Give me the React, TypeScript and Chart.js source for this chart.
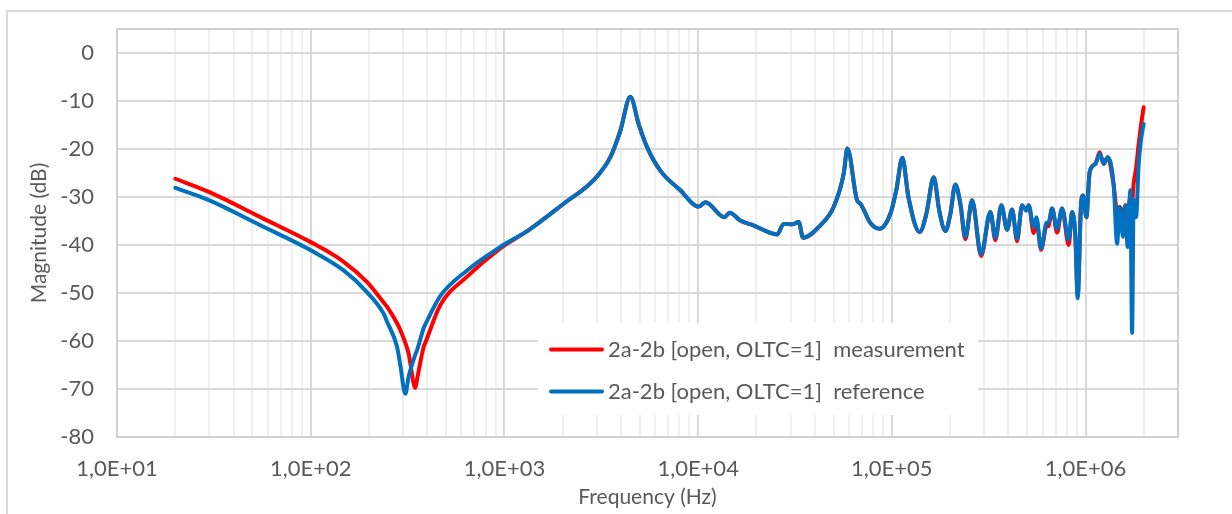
import React, { useEffect, useRef } from "react";
import { Chart, registerables } from "chart.js";

Chart.register(...registerables);

// Frequency points (Hz)
const freqs = [
  20, 30, 55, 100, 148, 195, 238, 248, 279, 290, 308, 320, 347, 354, 383, 391, 467, 641, 952, 1334,
  2021, 2887, 3521, 3965, 4467, 4930, 5449, 6380, 8094, 10060, 10900, 13657, 14543, 16516, 19275,
  25556, 27637, 30532, 33030, 34806, 42749, 50060, 56390, 58929, 66130, 68780, 77450, 86500, 98220,
  105500, 113300, 121700, 139200, 150700, 164400, 175900, 188900, 200500, 212700, 225700, 239600,
  259500, 288800, 322500, 342200, 367500, 393300, 417400, 443000, 470200, 494800, 508500, 539700,
  557200, 589200, 627700, 645000, 671700, 712800, 756400, 818100, 852000, 885800, 910500, 948000,
  971000, 1009500, 1050000, 1123600, 1182600, 1240000, 1301000, 1397000, 1455000, 1500000, 1562000,
  1605000, 1649000, 1703000, 1738000, 1771000, 1822000, 1880000, 1934000, 1995000,
];

// Series: measurement (red)
const measurement = [
  -26.2, -29.0, -34.2, -39.4, -43.5, -47.7, -52.0, -52.9, -56.3, -57.7, -60.4, -62.6, -69.8, -68.0, -61.2, -60.3, -52.5, -46.6, -40.7, -36.9,
  -31.4, -26.5, -21.7, -16.2, -9.1, -14.8, -19.6, -24.5, -28.6, -32.0, -31.1, -34.2, -33.3, -34.9, -35.9,
  -37.8, -35.6, -35.7, -35.2, -38.5, -35.9, -32.1, -25.2, -19.9, -30.7, -31.4, -35.4, -36.6, -33.5,
  -28.5, -21.8, -30.0, -37.3, -33.5, -25.9, -33.0, -37.1, -33.5, -27.4, -31.4, -38.8,
  -30.7, -42.3, -33.1, -39.0, -31.7, -36.8, -32.6, -39.2, -31.7, -32.8, -31.7, -37.5,
  -34.8, -41.0, -36.2, -36.0, -32.4, -37.4, -32.4, -40.0, -33.1, -38.3, -50.5, -31.4,
  -29.7, -34.2, -24.8, -23.1, -20.7, -23.1, -21.7, -27.6, -33.0, -32.1, -33.5,
  -31.7, -33.0, -30.0, -31.0, -27.2, -24.0, -19.0, -15.0, -11.3,
];

// Series: reference (blue)
const reference = [
  -28.1, -30.7, -35.9, -41.1, -45.3, -49.8, -54.3, -56.0, -61.2, -65.0, -71.0, -67.5, -62.8, -61.9, -57.3, -56.5, -50.6, -45.3, -40.4, -36.9,
  -31.4, -26.5, -21.7, -16.2, -9.1, -14.8, -19.6, -24.5, -28.6, -32.0, -31.1, -34.2, -33.3, -34.9, -35.9,
  -37.8, -35.6, -35.7, -35.2, -38.5, -35.9, -32.1, -25.2, -19.9, -30.7, -31.4, -35.4, -36.6, -33.5,
  -28.5, -21.8, -30.0, -37.3, -33.5, -25.9, -33.0, -37.1, -33.5, -27.4, -31.4, -38.3,
  -30.7, -41.9, -33.1, -38.5, -31.7, -36.8, -32.6, -38.7, -31.7, -32.8, -31.7, -36.3,
  -34.2, -40.7, -35.4, -35.2, -32.4, -36.6, -32.4, -38.9, -33.1, -38.3, -51.1, -31.4,
  -29.7, -34.2, -24.8, -23.1, -21.0, -23.1, -21.7, -27.6, -39.7, -32.1, -38.3,
  -31.7, -40.4, -28.6, -58.3, -30.7, -34.2, -23.1, -18.0, -14.8,
];

const seriesLabels = [
  "2a-2b [open, OLTC=1]  measurement",
  "2a-2b [open, OLTC=1]  reference",
];
const seriesColors = ["#FF0000", "#0070C0"];

const yTicks = [-80, -70, -60, -50, -40, -30, -20, -10, 0];
const yMin = -80;
const yMax = 5;
const xMin = 10;
const xMax = 3e6;
const xTickMultipliers = [1, 2, 3, 4, 5, 6, 7, 8, 9];
const xTickExponents = [1, 2, 3, 4, 5, 6];

const xTitle = "Frequency (Hz)";
const yTitle = "Magnitude (dB)";

const FONT = "Lato";
const TEXT_COLOR = "#595959";

function isDecade(v: number) {
  const l = Math.log10(v);
  return Math.abs(l - Math.round(l)) < 1e-9;
}

function sciLabel(v: number) {
  const e = Math.round(Math.log10(v));
  return "1,0E+" + String(e).padStart(2, "0");
}

const xTickValues: number[] = [];
xTickExponents.forEach((e) => {
  xTickMultipliers.forEach((k) => {
    const v = k * Math.pow(10, e);
    if (v >= xMin && v <= xMax) xTickValues.push(v);
  });
});

const plotBorderPlugin = {
  id: "plotBorder",
  beforeDatasetsDraw(chart: any) {
    const { ctx, chartArea } = chart;
    ctx.save();
    ctx.strokeStyle = "#D0D0D0";
    ctx.lineWidth = 2;
    ctx.strokeRect(
      chartArea.left,
      chartArea.top,
      chartArea.right - chartArea.left,
      chartArea.bottom - chartArea.top
    );
    ctx.restore();
  },
};

const insideLegendPlugin = {
  id: "insideLegend",
  afterDraw(chart: any) {
    const { ctx } = chart;
    const boxLeft = 538;
    const boxTop = 323;
    const boxW = 440;
    const boxH = 92;
    ctx.save();
    ctx.fillStyle = "#FFFFFF";
    ctx.fillRect(boxLeft, boxTop, boxW, boxH);
    const rows = [349.5, 391.5];
    seriesLabels.forEach((label, i) => {
      const y = rows[i];
      ctx.strokeStyle = seriesColors[i];
      ctx.lineWidth = 4;
      ctx.lineCap = "round";
      ctx.beginPath();
      ctx.moveTo(551, y);
      ctx.lineTo(602, y);
      ctx.stroke();
      ctx.fillStyle = TEXT_COLOR;
      ctx.font = `22px ${FONT}`;
      ctx.textBaseline = "middle";
      ctx.textAlign = "left";
      ctx.fillText(label, 608, y);
    });
    ctx.restore();
  },
};

export default function App() {
  const canvasRef = useRef<HTMLCanvasElement | null>(null);

  useEffect(() => {
    let chart: Chart | null = null;
    let cancelled = false;

    const build = () => {
      if (cancelled || !canvasRef.current) return;
      const datasets = [
        {
          label: seriesLabels[1],
          data: freqs.map((f, i) => ({ x: f, y: reference[i] })),
          borderColor: seriesColors[1],
          backgroundColor: seriesColors[1],
          borderWidth: 4,
          pointRadius: 0,
          cubicInterpolationMode: "monotone" as const,
          borderJoinStyle: "round" as const,
          borderCapStyle: "round" as const,
        },
        {
          label: seriesLabels[0],
          data: freqs.map((f, i) => ({ x: f, y: measurement[i] })),
          borderColor: seriesColors[0],
          backgroundColor: seriesColors[0],
          borderWidth: 4,
          pointRadius: 0,
          cubicInterpolationMode: "monotone" as const,
          borderJoinStyle: "round" as const,
          borderCapStyle: "round" as const,
        },
      ];

      chart = new Chart(canvasRef.current, {
        type: "line",
        data: { datasets },
        plugins: [plotBorderPlugin, insideLegendPlugin],
        options: {
          responsive: false,
          animation: false,
          layout: { padding: { left: 0, top: 29, right: 54, bottom: 0 } },
          plugins: {
            legend: { display: false },
            tooltip: { enabled: false },
            title: { display: false },
          },
          scales: {
            x: {
              type: "logarithmic",
              min: xMin,
              max: xMax,
              afterBuildTicks: (axis: any) => {
                axis.ticks = xTickValues.map((v) => ({ value: v, major: isDecade(v) }));
              },
              afterFit: (axis: any) => {
                axis.height = 77;
                axis.paddingLeft = 0;
                axis.paddingRight = 0;
              },
              border: { display: false },
              grid: {
                drawTicks: false,
                lineWidth: 2,
                color: (ctx: any) =>
                  ctx.tick && isDecade(ctx.tick.value) ? "#D9D9D9" : "#F0F0F0",
              },
              ticks: {
                autoSkip: false,
                maxRotation: 0,
                minRotation: 0,
                padding: 19,
                color: TEXT_COLOR,
                font: { family: FONT, size: 22 },
                callback: (value: any) => (isDecade(Number(value)) ? sciLabel(Number(value)) : ""),
              },
              title: {
                display: true,
                text: xTitle,
                color: TEXT_COLOR,
                font: { family: FONT, size: 21 },
                padding: { top: 0, bottom: 4 },
              },
            },
            y: {
              type: "linear",
              min: yMin,
              max: yMax,
              afterBuildTicks: (axis: any) => {
                axis.ticks = yTicks.map((v) => ({ value: v }));
              },
              afterFit: (axis: any) => {
                axis.width = 117;
                axis.paddingTop = 0;
                axis.paddingBottom = 0;
              },
              border: { display: false },
              grid: {
                drawTicks: false,
                lineWidth: 2,
                color: "#D9D9D9",
              },
              ticks: {
                padding: 23,
                color: TEXT_COLOR,
                font: { family: FONT, size: 22 },
                callback: (value: any) => String(value),
              },
              title: {
                display: true,
                text: yTitle,
                color: TEXT_COLOR,
                font: { family: FONT, size: 21 },
                padding: { top: 27, bottom: 0 },
              },
            },
          },
        },
      });
    };

    const fontsApi: any = (document as any).fonts;
    if (fontsApi && fontsApi.load) {
      fontsApi.load(`22px ${FONT}`).then(build, build);
    } else {
      build();
    }

    return () => {
      cancelled = true;
      if (chart) chart.destroy();
    };
  }, []);

  return (
    <div
      style={{
        position: "fixed",
        left: 0,
        top: 0,
        width: 1232,
        height: 514,
        background: "#FFFFFF",
        overflow: "hidden",
      }}
    >
      <div
        style={{
          position: "absolute",
          left: 6,
          top: 10,
          width: 1300,
          height: 600,
          border: "2px solid #D9D9D9",
          boxSizing: "border-box",
        }}
      />
      <canvas
        ref={canvasRef}
        width={1232}
        height={514}
        style={{ position: "absolute", left: 0, top: 0, display: "block" }}
      />
    </div>
  );
}
